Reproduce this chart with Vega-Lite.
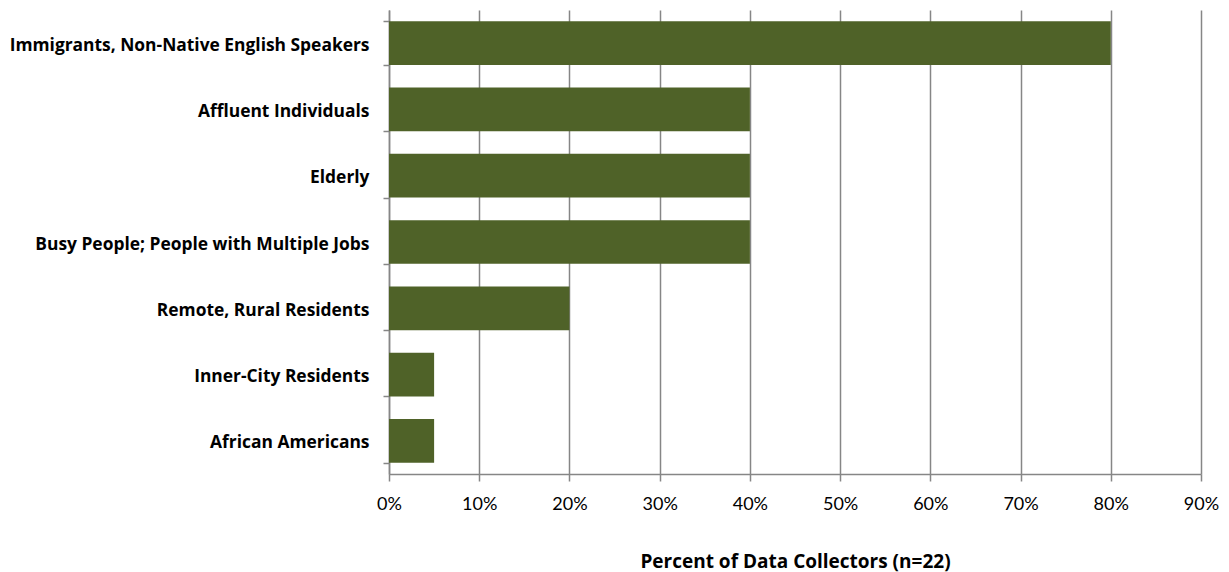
{
  "$schema": "https://vega.github.io/schema/vega-lite/v6.json",
  "width": 812,
  "height": 464,
  "autosize": {"type": "none"},
  "padding": {"left": 389, "top": 10, "right": 28, "bottom": 98},
  "background": "white",
  "data": {
    "values": [
      {"group": "Immigrants, Non-Native English Speakers", "pct": 0.80},
      {"group": "Affluent Individuals", "pct": 0.40},
      {"group": "Elderly", "pct": 0.40},
      {"group": "Busy People; People with Multiple Jobs", "pct": 0.40},
      {"group": "Remote, Rural Residents", "pct": 0.20},
      {"group": "Inner-City Residents", "pct": 0.05},
      {"group": "African Americans", "pct": 0.05}
    ]
  },
  "config": {
    "view": {"stroke": null},
    "font": "Open Sans"
  },
  "mark": {"type": "bar", "color": "#4F6228"},
  "encoding": {
    "y": {
      "field": "group",
      "type": "nominal",
      "sort": null,
      "scale": {"paddingInner": 0.34, "paddingOuter": 0.17},
      "axis": {
        "title": null,
        "tickBand": "extent",
        "domainColor": "#868686",
        "domainWidth": 1.5,
        "tickColor": "#868686",
        "tickWidth": 1.5,
        "tickSize": 6,
        "labelPadding": 14,
        "labelOffset": 2,
        "labelFont": "Open Sans",
        "labelFontWeight": "bold",
        "labelFontSize": 17.4,
        "labelColor": "#000000",
        "labelLimit": 400
      }
    },
    "x": {
      "field": "pct",
      "type": "quantitative",
      "scale": {"domain": [0, 0.9], "nice": false},
      "axis": {
        "format": ".0%",
        "values": [0, 0.1, 0.2, 0.3, 0.4, 0.5, 0.6, 0.7, 0.8, 0.9],
        "title": "Percent of Data Collectors (n=22)",
        "titleFont": "Open Sans",
        "titleFontSize": 19,
        "titleFontWeight": "bold",
        "titleColor": "#000000",
        "titlePadding": 39,
        "grid": true,
        "gridColor": "#868686",
        "gridWidth": 1.5,
        "domainColor": "#868686",
        "domainWidth": 1.5,
        "tickColor": "#868686",
        "tickWidth": 1.5,
        "tickSize": 7,
        "labelPadding": 14,
        "labelFont": "Lato",
        "labelFontSize": 18,
        "labelColor": "#000000",
        "labelFlush": false
      }
    }
  }
}
